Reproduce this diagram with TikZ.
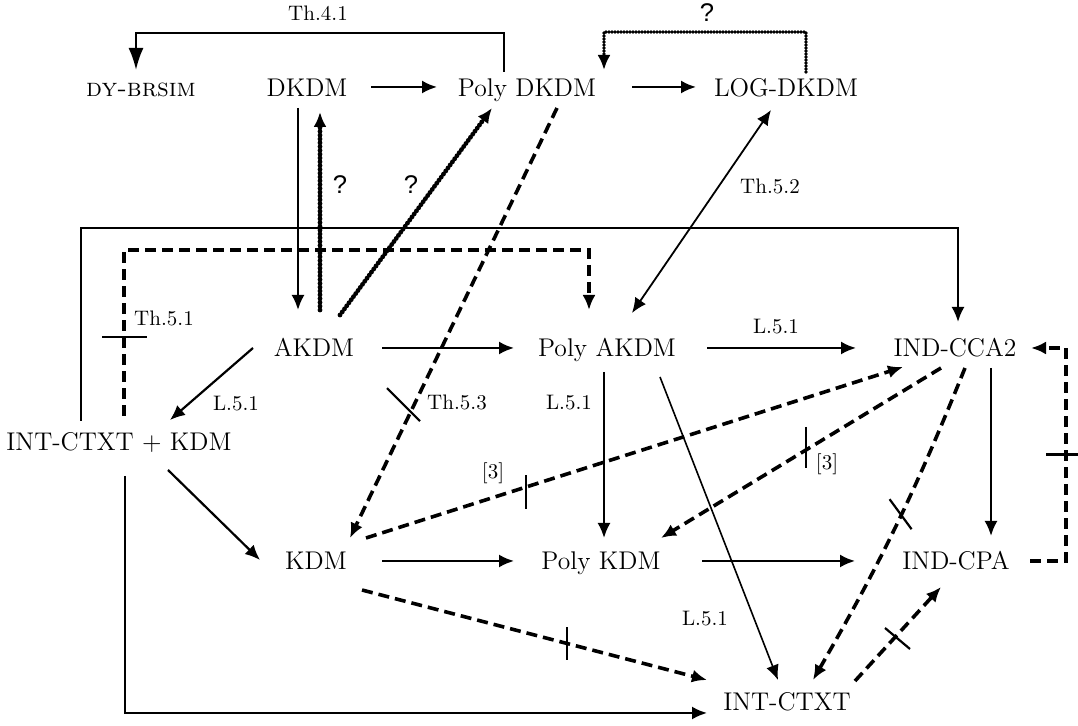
\documentclass[tikz,border=0pt]{standalone}
\usepackage{fontspec}
\newfontfamily\qfont{Liberation Sans}
\usetikzlibrary{arrows.meta,calc}
\begin{document}
\begin{tikzpicture}[x=0.5pt,y=-0.5pt,
  every node/.style={inner sep=0pt, outer sep=0pt},
  main/.style={font=\fontsize{12.8}{15}\selectfont, text height=8.75pt, text depth=0pt},
  lab/.style={font=\fontsize{10.5}{12}\selectfont, text height=6.8pt, text depth=0pt},
  qm/.style={font=\qfont\fontsize{12.8}{15}\selectfont, text height=9.2pt, text depth=0pt},
  tipa/.style={-{Latex[length=7.5pt,width=6.5pt]}},
  arr/.style={line width=1.1pt, tipa},
  lite/.style={line width=0.8pt, tipa},
  dsh/.style={line width=1.8pt, dash pattern=on 5.5pt off 3pt, tipa},
  dotarr/.style={line width=2.4pt, line cap=round, dash pattern=on 0pt off 1.9pt, tipa},
  crossmark/.style={line width=1.1pt},
]
\useasboundingbox (0,0) rectangle (1078,726);

% nodes
\node[main, text height=5.9pt] (DY) at (141,91) {\scshape dy-brsim};
\node[main] (DKDM) at (307,88) {DKDM};
\node[main] (PDKDM) at (527,88) {Poly DKDM};
\node[main] (LOG) at (786,88) {LOG-DKDM};
\node[main] (AKDM) at (314,348) {AKDM};
\node[main] (PAKDM) at (607,348) {Poly AKDM};
\node[main] (CCA) at (955,348) {IND-CCA2};
\node[main] (ICK) at (119,442) {INT-CTXT + KDM};
\node[main] (KDM) at (316,561) {KDM};
\node[main] (PKDM) at (601,561) {Poly KDM};
\node[main] (CPA) at (956,561) {IND-CPA};
\node[main] (CTXT) at (787,702) {INT-CTXT};

% labels
\node[lab] (l41) at (318,14) {Th.4.1};
\node[qm] (q1) at (707,12.5) {?};
\node[qm] (q2) at (340,184) {?};
\node[qm] (q3) at (411,184) {?};
\node[lab] (l52) at (770,187) {Th.5.2};
\node[lab] (l51) at (164,318.5) {Th.5.1};
\node[lab] (la) at (236,404) {L.5.1};
\node[lab] (l53) at (457,403) {Th.5.3};
\node[lab] (lb) at (569,403) {L.5.1};
\node[lab] (lc) at (776,327) {L.5.1};
\node[lab] (r1) at (493,472) {[3]};
\node[lab] (r2) at (827,463) {[3]};
\node[lab] (ld) at (705,619) {L.5.1};

% top row
\draw[arr] ($(DKDM)+(64,-1)$) -- ($(PDKDM)+(-90,-1)$);
\draw[arr] ($(PDKDM)+(105,-1)$) -- ($(LOG)+(-90,-1)$);
\draw[line width=1.1pt, -{Latex[length=11pt,width=7.5pt]}] ($(PDKDM)+(-23,-16)$) -- ++(0,-39) -| ($(DY)+(-5,-21)$);
\draw[dotarr, line width=1.9pt, dash pattern=on 0pt off 1.5pt] ($(LOG)+(20,-16)$) -- ++(0,-40) -| ($(PDKDM)+(77,-18)$);

% DKDM / AKDM
\draw[arr] ($(DKDM)+(-9,20)$) -- ($(AKDM)+(-16,-38)$);
\draw[dotarr] ($(AKDM)+(6,-38)$) -- ($(DKDM)+(13,24)$);
\draw[dotarr] ($(AKDM)+(26,-33)$) -- ($(PDKDM)+(-35,20)$);

% Poly DKDM -> KDM (Th.5.3, crossed)
\draw[dsh] ($(PDKDM)+(30,20)$) -- coordinate[pos=0.705] (x1) ($(KDM)+(34,-23)$);
\draw[crossmark] ($(x1)+(-24,-23)$) -- ($(x1)+(9,10)$);

% Th.5.2
\draw[line width=0.9pt, {Latex[length=7.5pt,width=6.5pt]}-{Latex[length=7.5pt,width=6.5pt]}] ($(PAKDM)+(25,-35)$) -- ($(LOG)+(-15,22)$);

% frames from INT-CTXT + KDM
\draw[arr] ($(ICK)+(-38,-21)$) -- ++(0,-193) -| ($(CCA)+(3,-26)$);
\draw[dsh] ($(ICK)+(5,-26)$) -- coordinate[pos=0.476] (x2) ++(0,-166) -| ($(PAKDM)+(-18,-38)$);
\draw[crossmark] ($(x2)+(-22,0)$) -- ($(x2)+(23,0)$);
\draw[arr] ($(ICK)+(6,34)$) |- ($(CTXT)+(-80,11)$);

% middle row
\draw[arr] ($(AKDM)+(-61,0)$) -- ($(ICK)+(51,-22)$);
\draw[arr] ($(ICK)+(49,28)$) -- ($(KDM)+(-56,-1)$);
\draw[arr] ($(AKDM)+(68,0)$) -- ($(PAKDM)+(-93,0)$);
\draw[arr] ($(PAKDM)+(100,0)$) -- ($(CCA)+(-99,0)$);
\draw[dsh, line width=2pt] ($(CPA)+(74,0)$) -- ($(CPA)+(110,0)$) -- coordinate[pos=0.5] (x3) ($(CCA)+(111,0)$) -- ($(CCA)+(76,0)$);
\draw[crossmark] ($(x3)+(-20,0)$) -- ($(x3)+(20,0)$);
\draw[arr] ($(PAKDM)+(-3,24)$) -- ($(PKDM)+(3,-23)$);
\draw[arr] ($(CCA)+(36,20)$) -- ($(CPA)+(35,-25)$);
\draw[lite] ($(PAKDM)+(53,29)$) -- ($(CTXT)+(-9,-22)$);

% [3] arrows
\draw[dsh] ($(KDM)+(50,-23)$) -- coordinate[pos=0.298] (x4) ($(CCA)+(-52,19)$);
\draw[crossmark] ($(x4)+(0,-12)$) -- ($(x4)+(0,22)$);
\draw[dsh] ($(CCA)+(-14,20)$) -- coordinate[pos=0.482] (x5) ($(PKDM)+(60,-23)$);
\draw[crossmark] ($(x5)+(0,-23)$) -- ($(x5)+(0,18)$);

% to INT-CTXT and IND-CPA
\draw[dsh] ($(CCA)+(10,20)$) to[bend left=4] coordinate[pos=0.455] (x6) ($(CTXT)+(26,-22)$);
\draw[crossmark] ($(x6)+(-12,-15)$) -- ($(x6)+(10,15)$);
\draw[dsh] ($(KDM)+(46,29)$) -- coordinate[pos=0.594] (x7) ($(CTXT)+(-80,-22)$);
\draw[crossmark] ($(x7)+(0,-16)$) -- ($(x7)+(0,17)$);
\draw[dsh] ($(CTXT)+(68,-21)$) -- coordinate[pos=0.5] (x8) ($(CPA)+(-15,26)$);
\draw[crossmark] ($(x8)+(-13,-6)$) -- ($(x8)+(12,15)$);

% bottom row
\draw[arr] ($(KDM)+(66,0)$) -- ($(PKDM)+(-87,0)$);
\draw[arr] ($(PKDM)+(101,0)$) -- ($(CPA)+(-101,0)$);
\end{tikzpicture}
\end{document}
